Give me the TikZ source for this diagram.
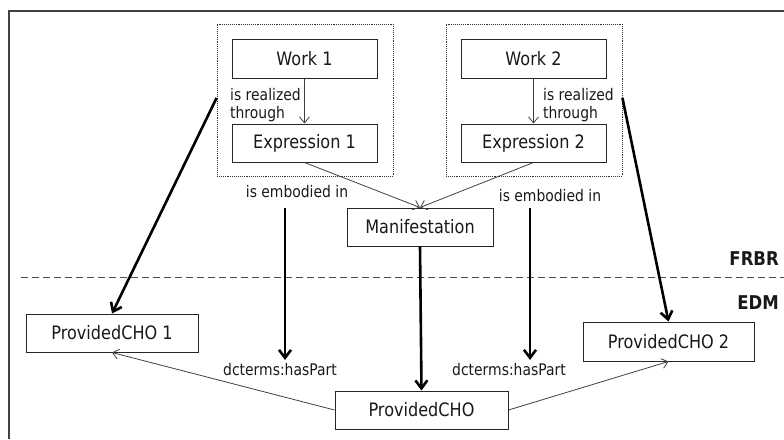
\documentclass[tikz,border=0pt]{standalone}
\usepackage{fontspec}
\setmainfont{DejaVu Sans}[FakeStretch=0.87]
\usetikzlibrary{arrows.meta}
\begin{document}
\begin{tikzpicture}[x=1pt,y=-1pt,
  box/.style={draw=black!85, line width=1pt, fill=white, inner sep=0pt, font=\fontsize{18.5}{22}\selectfont, text=black!90},
  grp/.style={draw=black!80, densely dotted, line width=0.9pt, inner sep=0pt},
  thinarr/.style={draw=black!75, line width=0.8pt, -{Straight Barb[length=6pt,width=10pt]}},
  thickarr/.style={draw=black, line width=2.6pt, -{Straight Barb[length=8pt,width=12pt]}},
  lbl/.style={font=\fontsize{16}{18}\selectfont, inner sep=0pt, text=black!90},
  layer/.style={font=\bfseries\fontsize{19}{22}\selectfont, inner sep=0pt, anchor=east, text=black!90}
]
\useasboundingbox (0,0) rectangle (784,439);
% outer frame
\draw[black!75, line width=2pt] (8.5,439) -- (8.5,10.5) -- (784,10.5);
% dashed separator
\coordinate (dl) at (21,277);
\coordinate (dr) at (784,277);
\draw[black!70, line width=1pt, dash pattern=on 7pt off 4pt] (dl) -- (dr);
\node[layer] (frbr) at (779,259) {FRBR};
\node[layer] (edm) at (779,303) {EDM};
% groups
\node[grp, minimum width=176pt, minimum height=152pt] (g1) at (305,100) {};
\node[grp, minimum width=176pt, minimum height=152pt] (g2) at (534,100) {};
% boxes
\node[box, minimum width=145pt, minimum height=39pt] (w1) at (304.5,58.5) {Work 1};
\node[box, minimum width=145pt, minimum height=38pt] (e1) at (304.5,143) {Expression 1};
\node[box, minimum width=145pt, minimum height=39pt] (w2) at (533.5,58.5) {Work 2};
\node[box, minimum width=145pt, minimum height=38pt] (e2) at (533.5,143) {Expression 2};
\node[box, minimum width=146pt, minimum height=38pt] (man) at (420,227) {Manifestation};
\node[box, minimum width=172pt, minimum height=38pt] (cho1) at (112,333) {ProvidedCHO 1};
\node[box, minimum width=173pt, minimum height=38pt] (cho) at (421.5,410) {ProvidedCHO};
\node[box, minimum width=171pt, minimum height=39pt] (cho2) at (668.5,341.5) {ProvidedCHO 2};
% thin arrows
\draw[thinarr] (w1) -- (e1);
\draw[thinarr] (w2) -- (e2);
\draw[thinarr] (e1.south) -- (man.north);
\draw[thinarr] (e2.south) -- (man.north);
\draw[thinarr] (cho.west) -- (cho1.south);
\draw[thinarr] (cho.east) -- (cho2.south);
% thick arrows
\coordinate (a1) at (285,208);
\coordinate (b1) at (285,360);
\coordinate (a2) at (530,208);
\coordinate (b2) at (530,360);
\draw[thickarr] (a1) -- (b1);
\draw[thickarr] (a2) -- (b2);
\draw[thickarr] (man.south) -- (cho.north);
\draw[thickarr] ([yshift=2pt]g1.west) -- (cho1.north);
\draw[thickarr] ([yshift=2pt]g2.east) -- (cho2.north);
% labels
\node[lbl, align=left, anchor=north west] (r1) at (230,88) {is realized\\through};
\node[lbl, align=left, anchor=north west] (r2) at (543,88) {is realized\\through};
\node[lbl] (em1) at (297,192) {is embodied in};
\node[lbl] (em2) at (550,196) {is embodied in};
\node[lbl] (hp1) at (280,370) {dcterms:hasPart};
\node[lbl] (hp2) at (509,370) {dcterms:hasPart};
\end{tikzpicture}
\end{document}
